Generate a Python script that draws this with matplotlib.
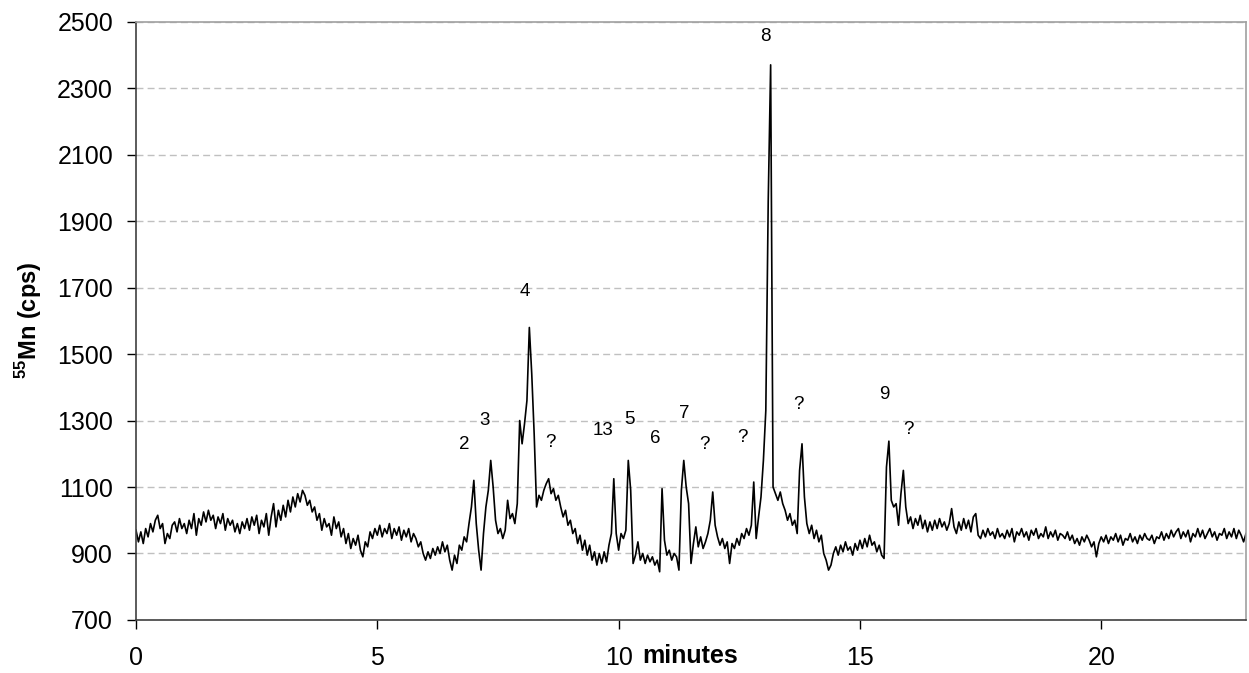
import numpy as np
import matplotlib
matplotlib.use("Agg")
import matplotlib.pyplot as plt

plt.rcParams['font.family'] = ['Liberation Sans', 'DejaVu Sans']
plt.rcParams['mathtext.fontset'] = 'custom'
plt.rcParams['mathtext.rm'] = 'Liberation Sans'
plt.rcParams['mathtext.bf'] = 'Liberation Sans:bold'

# sampling of the trace (minutes)
start_min = 0.0
step_min = 0.05

# 55Mn signal (cps), one row per minute
mn_cps = [
    970, 935, 965, 930, 975, 950, 990, 965, 1000, 1015, 975, 990, 930, 960, 945, 985, 995, 965, 1005, 975,
    990, 960, 1000, 975, 1020, 955, 1005, 985, 1025, 995, 1030, 1000, 1015, 975, 1010, 990, 1020, 970, 1005, 985,
    1000, 965, 990, 960, 995, 975, 1005, 970, 1010, 985, 1015, 960, 1000, 980, 1020, 955, 1010, 1050, 980, 1030,
    1000, 1045, 1010, 1060, 1025, 1070, 1040, 1080, 1055, 1090, 1075, 1045, 1060, 1025, 1040, 1000, 1020, 970, 1005, 980,
    990, 955, 1010, 975, 995, 950, 975, 930, 960, 915, 945, 925, 955, 910, 890, 935, 920, 965, 945, 975,
    955, 985, 950, 975, 960, 990, 945, 975, 955, 980, 940, 970, 950, 975, 935, 960, 945, 920, 935, 900,
    880, 905, 885, 915, 895, 920, 900, 935, 905, 925, 880, 850, 895, 870, 925, 910, 950, 935, 990, 1040,
    1120, 990, 910, 850, 960, 1040, 1090, 1180, 1100, 1000, 960, 975, 945, 970, 1060, 1005, 1020, 990, 1050, 1300,
    1230, 1290, 1360, 1580, 1440, 1260, 1040, 1075, 1060, 1090, 1110, 1125, 1080, 1095, 1060, 1075, 1040, 1010, 1030, 985,
    1000, 960, 975, 930, 955, 910, 940, 895, 925, 880, 905, 865, 900, 870, 905, 875, 925, 960, 1125, 960,
    910, 960, 945, 970, 1180, 1090, 870, 895, 935, 880, 900, 870, 895, 875, 890, 865, 880, 845, 1095, 940,
    895, 910, 880, 900, 890, 850, 1090, 1180, 1100, 1050, 870, 930, 980, 920, 950, 915, 935, 960, 1000, 1085,
    985, 950, 925, 945, 915, 935, 870, 930, 915, 945, 925, 960, 945, 975, 955, 985, 1115, 945, 1010, 1070,
    1180, 1330, 1960, 2370, 1100, 1080, 1060, 1085, 1050, 1030, 1000, 1020, 985, 1000, 960, 1150, 1230, 1070, 990, 960,
    985, 945, 970, 935, 955, 900, 880, 850, 865, 900, 920, 895, 925, 905, 935, 910, 920, 895, 930, 910,
    940, 915, 945, 920, 955, 925, 935, 905, 925, 895, 885, 1160, 1238, 1060, 1040, 1050, 985, 1080, 1150, 1040,
    990, 1010, 975, 1005, 985, 1015, 975, 1000, 965, 995, 970, 1000, 975, 1005, 980, 995, 970, 990, 1035, 980,
    960, 995, 970, 1005, 975, 1000, 965, 1010, 1020, 955, 945, 970, 950, 975, 955, 965, 945, 975, 950, 960,
    945, 970, 950, 975, 935, 965, 955, 975, 950, 965, 940, 970, 955, 975, 945, 960, 950, 980, 945, 965,
    950, 970, 940, 960, 955, 945, 965, 940, 955, 930, 945, 925, 950, 935, 955, 940, 920, 935, 890, 930,
    950, 935, 955, 930, 950, 940, 960, 935, 955, 925, 945, 940, 960, 935, 950, 930, 955, 940, 960, 945,
    940, 955, 930, 950, 945, 965, 940, 960, 945, 970, 950, 965, 975, 945, 965, 950, 970, 935, 960, 950,
    975, 950, 970, 945, 960, 975, 950, 965, 940, 960, 955, 975, 945, 965, 950, 975, 945, 970, 955, 935,
    960,
]

# peak labels: text, time (min), height (cps)
peak_labels = ['8', '4', '2', '3', '?', '13', '5', '6', '7', '?', '?', '?', '9', '?']
label_min = [13.05, 8.05, 6.8, 7.22, 8.59, 9.67, 10.23, 10.75, 11.35, 11.78, 12.57, 13.73, 15.5, 16.0]
label_cps = [2455, 1687, 1227, 1299, 1233, 1269, 1302, 1245, 1320, 1227, 1248, 1347, 1377, 1272]

y_ticks = [700, 900, 1100, 1300, 1500, 1700, 1900, 2100, 2300, 2500]
x_ticks = [0, 5, 10, 15, 20]

minutes = start_min + step_min * np.arange(len(mn_cps))

fig = plt.figure(figsize=(12.49, 6.73), dpi=100)
ax = fig.add_axes([0.1089, 0.0788, 0.8887, 0.889])

ax.plot(minutes, mn_cps, color='black', lw=1.2)

for txt, t, v in zip(peak_labels, label_min, label_cps):
    ax.text(t, v, txt, ha='center', va='center', fontsize=13.5)

ax.set_xlim(0, 23)
ax.set_ylim(700, 2500)
ax.set_yticks(y_ticks)
ax.set_xticks(x_ticks)
ax.tick_params(labelsize=18, length=6.5, width=1, color='black')
ax.tick_params(axis='y', pad=10)
ax.tick_params(axis='x', pad=12)
ax.yaxis.grid(True, linestyle=(0, (5, 3)), color='#c0c0c0', lw=1)
ax.set_axisbelow(True)

for s in ['left', 'bottom']:
    ax.spines[s].set_color('#404040')
    ax.spines[s].set_linewidth(1.2)
for s in ['top', 'right']:
    ax.spines[s].set_color('#a0a0a0')
    ax.spines[s].set_linewidth(1.2)

ax.set_ylabel(r'$^{\mathbf{55}}$Mn (cps)', fontsize=17, fontweight='bold')
ax.yaxis.set_label_coords(-0.083, 0.5)
ax.annotate('minutes', xy=(10.48, 0), xycoords=('data', 'axes fraction'),
            xytext=(0, -17), textcoords='offset points', ha='left', va='top',
            fontsize=18, fontweight='bold')

fig.savefig('out.png', dpi=100)
